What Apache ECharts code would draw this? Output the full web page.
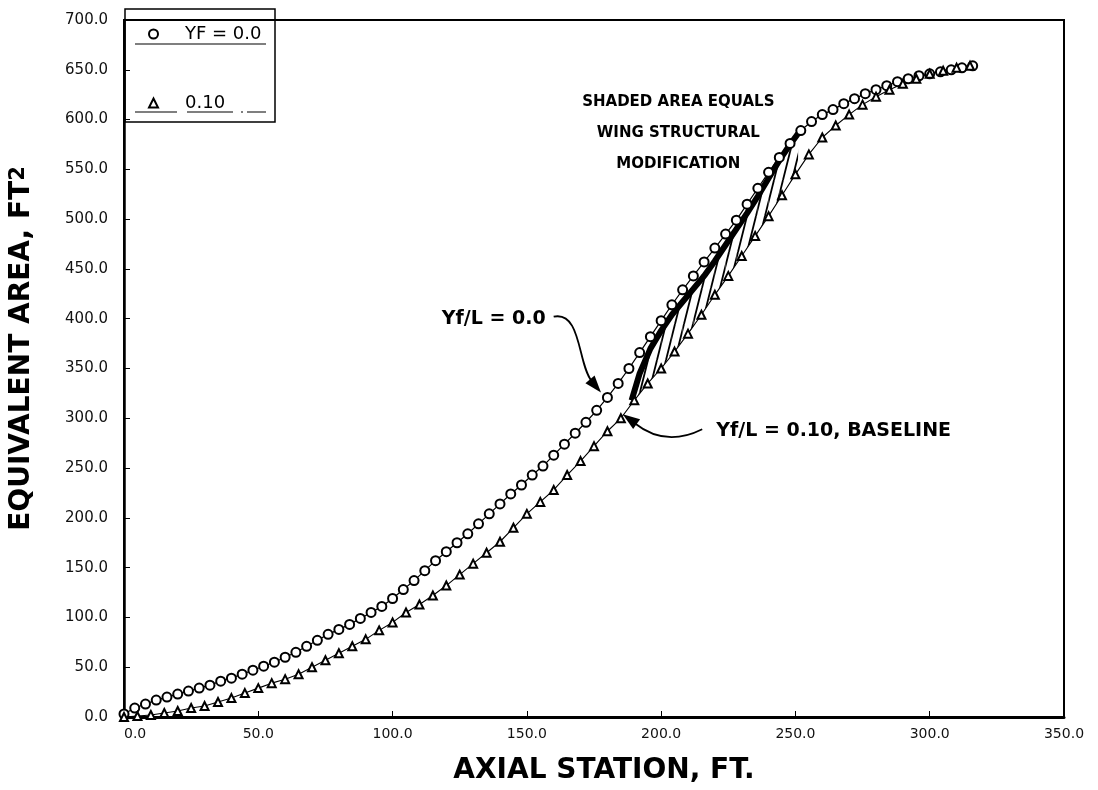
<!DOCTYPE html>
<html><head><meta charset="utf-8">
<script src="https://cdn.jsdelivr.net/npm/echarts@6/dist/echarts.min.js"></script>
<style>html,body{margin:0;padding:0;background:#fff}#c{width:1098px;height:790px}</style>
</head><body><div id="c"></div>
<script>
// ---- data (axial station ft, equivalent area ft^2) ----
const circleX = [0,4,8,12,16,20,24,28,32,36,40,44,48,52,56,60,64,68,72,76,80,84,88,92,96,100,104,108,112,116,120,124,128,132,136,140,144,148,152,156,160,164,168,172,176,180,184,188,192,196,200,204,208,212,216,220,224,228,232,236,240,244,248,252,256,260,264,268,272,276,280,284,288,292,296,300,304,308,312,316];
const circleY = [3,9,13,17,20,23,26,29,32,36,39,43,47,51,55,60,65,71,77,83,88,93,99,105,111,119,128,137,147,157,166,175,184,194,204,214,224,233,243,252,263,274,285,296,308,321,335,350,366,382,398,414,429,443,457,471,485,499,515,531,547,562,576,589,598,605,610,616,621,626,630,634,638,641,644,646,648,650,652,654];
const triX = [0,5,10,15,20,25,30,35,40,45,50,55,60,65,70,75,80,85,90,95,100,105,110,115,120,125,130,135,140,145,150,155,160,165,170,175,180,185,190,195,200,205,210,215,220,225,230,235,240,245,250,255,260,265,270,275,280,285,290,295,300,305,310,315];
const triY = [0,1,2,4,6,9,11,15,19,24,29,34,38,43,50,57,64,71,78,87,95,105,113,122,132,143,154,165,176,190,204,216,228,243,257,272,287,300,318,335,350,367,385,404,424,443,463,483,503,524,545,565,582,594,605,615,623,630,636,641,646,649,652,654];
// shaded area (wing structural modification): upper boundary and baseline beneath it
const shadeX = [189,192,196,200,204,208,212,216,220,224,228,232,236,240,244,248,251];
const shadeUpper = [318,345,370,388,404,417,430,443,458,474,490,506,523,541,559,575,586];
const shadeLower = [315,325,338,350,364,378,392,408,424,439,455,471,487,503,520,537,549];
const seriesNames = ['YF = 0.0', '0.10'];
const xRange = [0, 350], xStep = 50;
const yRange = [0, 700], yStep = 50;
// annotation anchors (data space)
const notes = [
  {text: 'SHADED AREA EQUALS\nWING STRUCTURAL\nMODIFICATION', at: [206.4, 618]},
  {text: 'Yf/L = 0.0', at: [157, 400], tip: [177.6, 326]},
  {text: 'Yf/L = 0.10, BASELINE', at: [220.5, 287], tip: [185.7, 304]}
];

const FONT = 'DejaVu Sans';
const chart = echarts.init(document.getElementById('c'), null, {renderer: 'canvas'});

// hatch pattern (steep strokes)
const pat = document.createElement('canvas');
pat.width = 9; pat.height = 36;
const pc = pat.getContext('2d');
pc.strokeStyle = '#000'; pc.lineWidth = 1.8;
[-9, 0, 9].forEach(o => { pc.beginPath(); pc.moveTo(o, 36); pc.lineTo(o + 9, 0); pc.stroke(); });

const shadeData = shadeX.map((x, i) => [x, shadeUpper[i], shadeLower[i]]);

const option = {
  animation: false,
  backgroundColor: '#fff',
  grid: {left: 118, right: 34, top: 20, bottom: 59, show: true, borderColor: '#000', borderWidth: 2, containLabel: false},
  xAxis: {
    type: 'value', min: xRange[0], max: xRange[1], interval: xStep,
    name: 'AXIAL STATION, FT.', nameLocation: 'middle', nameGap: 40,
    nameTextStyle: {fontFamily: FONT, fontWeight: 'bold', fontSize: 28, color: '#000', padding: [0, 0, 0, 20]},
    axisLine: {lineStyle: {color: '#000', width: 3}},
    axisTick: {inside: true, length: 6, lineStyle: {color: '#000', width: 1}},
    axisLabel: {fontFamily: FONT, fontSize: 14, color: '#111', margin: 10, alignMinLabel: 'left', formatter: v => v.toFixed(1)},
    splitLine: {show: false}
  },
  yAxis: {
    type: 'value', min: yRange[0], max: yRange[1], interval: yStep,
    name: 'EQUIVALENT AREA, FT{s|2}', nameLocation: 'middle', nameGap: 88,
    nameTextStyle: {fontFamily: FONT, fontWeight: 'bold', fontSize: 28, color: '#000', padding: [0, 0, 0, 40],
      rich: {s: {fontFamily: FONT, fontSize: 21, color: '#000', verticalAlign: 'top'}}},
    axisLine: {lineStyle: {color: '#000', width: 2.5}},
    axisTick: {inside: true, length: 6, lineStyle: {color: '#000', width: 1}},
    axisLabel: {fontFamily: FONT, fontSize: 15, color: '#111', margin: 16, formatter: v => v.toFixed(1)},
    splitLine: {show: false}
  },
  legend: {
    orient: 'vertical', left: 143, top: 19, itemWidth: 9, itemHeight: 9, itemGap: 49,
    data: [{name: seriesNames[0], icon: 'emptyCircle'}, {name: seriesNames[1], icon: 'emptyTriangle'}],
    textStyle: {fontFamily: FONT, fontSize: 18, color: '#000', lineHeight: 20, padding: [0, 0, 0, 22]},
    selectedMode: false
  },
  series: [
    {
      type: 'custom', name: 'shade', silent: true, z: 1,
      data: shadeData,
      encode: {x: 0, y: [1, 2]},
      renderItem: function (params, api) {
        const i = params.dataIndex;
        if (i >= shadeData.length - 1) return null;
        const a = api.coord([shadeData[i][0], shadeData[i][1]]);
        const b = api.coord([shadeData[i + 1][0], shadeData[i + 1][1]]);
        const c = api.coord([shadeData[i + 1][0], shadeData[i + 1][2]]);
        const d = api.coord([shadeData[i][0], shadeData[i][2]]);
        return {type: 'polygon', shape: {points: [a, b, c, d]},
          style: {fill: {image: pat, repeat: 'repeat'}, stroke: null}};
      }
    },
    {
      type: 'line', name: 'band', silent: true, z: 2, symbol: 'none',
      data: shadeX.map((x, i) => [x, shadeUpper[i]]),
      lineStyle: {color: '#000', width: 6}
    },
    {
      type: 'line', name: seriesNames[0], z: 3,
      data: circleX.map((x, i) => [x, circleY[i]]),
      symbol: 'emptyCircle', symbolSize: 9,
      itemStyle: {color: '#000', borderWidth: 1.3},
      lineStyle: {color: '#000', width: 1.2}
    },
    {
      type: 'line', name: seriesNames[1], z: 3,
      data: triX.map((x, i) => [x, triY[i]]),
      symbol: 'emptyTriangle', symbolSize: 8,
      itemStyle: {color: '#000', borderWidth: 1.3},
      lineStyle: {color: '#000', width: 1.1}
    }
  ]
};
chart.setOption(option);

function P(pt) { return chart.convertToPixel({gridIndex: 0}, pt); }
function arrowHead(tip, from, len, half) {
  const dx = tip[0] - from[0], dy = tip[1] - from[1];
  const L = Math.hypot(dx, dy), ux = dx / L, uy = dy / L;
  const bx = tip[0] - ux * len, by = tip[1] - uy * len;
  return {type: 'polygon', shape: {points: [tip, [bx - uy * half, by + ux * half], [bx + uy * half, by - ux * half]]},
    style: {fill: '#000'}};
}
const g = [];
// legend frame and underlines
g.push({type: 'rect', shape: {x: 125, y: 9, width: 150, height: 113}, style: {fill: null, stroke: '#000', lineWidth: 1.5}, z: 10});
g.push({type: 'line', shape: {x1: 135, y1: 44, x2: 266, y2: 44}, style: {stroke: '#000', lineWidth: 1.2}, z: 10});
g.push({type: 'line', shape: {x1: 135, y1: 112, x2: 266, y2: 112}, style: {stroke: '#000', lineWidth: 1.2, lineDash: [42, 10, 46, 8, 2, 4, 30]}, z: 10});
// notes
const n0 = P(notes[0].at);
g.push({type: 'text', x: n0[0], y: n0[1] - 15, style: {text: notes[0].text, font: 'bold 15px "DejaVu Sans"', fill: '#000', align: 'center', verticalAlign: 'top', lineHeight: 31}});
const n1 = P(notes[1].at), t1 = P(notes[1].tip);
g.push({type: 'text', x: n1[0], y: n1[1], style: {text: notes[1].text, font: 'bold 19px "DejaVu Sans"', fill: '#000', align: 'right', verticalAlign: 'middle'}});
const s1 = [n1[0] + 8, n1[1] - 2];
g.push({type: 'bezierCurve', shape: {x1: s1[0], y1: s1[1], cpx1: s1[0] + 28, cpy1: s1[1] - 6, cpx2: s1[0] + 24, cpy2: s1[1] + 48, x2: t1[0] - 9, y2: t1[1] - 11}, style: {stroke: '#000', lineWidth: 1.8, fill: null}});
g.push(arrowHead(t1, [t1[0] - 22, t1[1] - 26], 17, 6));
const n2 = P(notes[2].at), t2 = P(notes[2].tip);
g.push({type: 'text', x: n2[0], y: n2[1], style: {text: notes[2].text, font: 'bold 19px "DejaVu Sans"', fill: '#000', align: 'left', verticalAlign: 'middle'}});
const s2 = [n2[0] - 14, n2[1] - 2];
g.push({type: 'bezierCurve', shape: {x1: s2[0], y1: s2[1], cpx1: s2[0] - 28, cpy1: s2[1] + 14, cpx2: s2[0] - 50, cpy2: s2[1] + 8, x2: t2[0] + 12, y2: t2[1] + 9}, style: {stroke: '#000', lineWidth: 1.8, fill: null}});
g.push(arrowHead(t2, [t2[0] + 24, t2[1] + 17], 17, 6));
chart.setOption({graphic: g});
</script>
</body></html>
